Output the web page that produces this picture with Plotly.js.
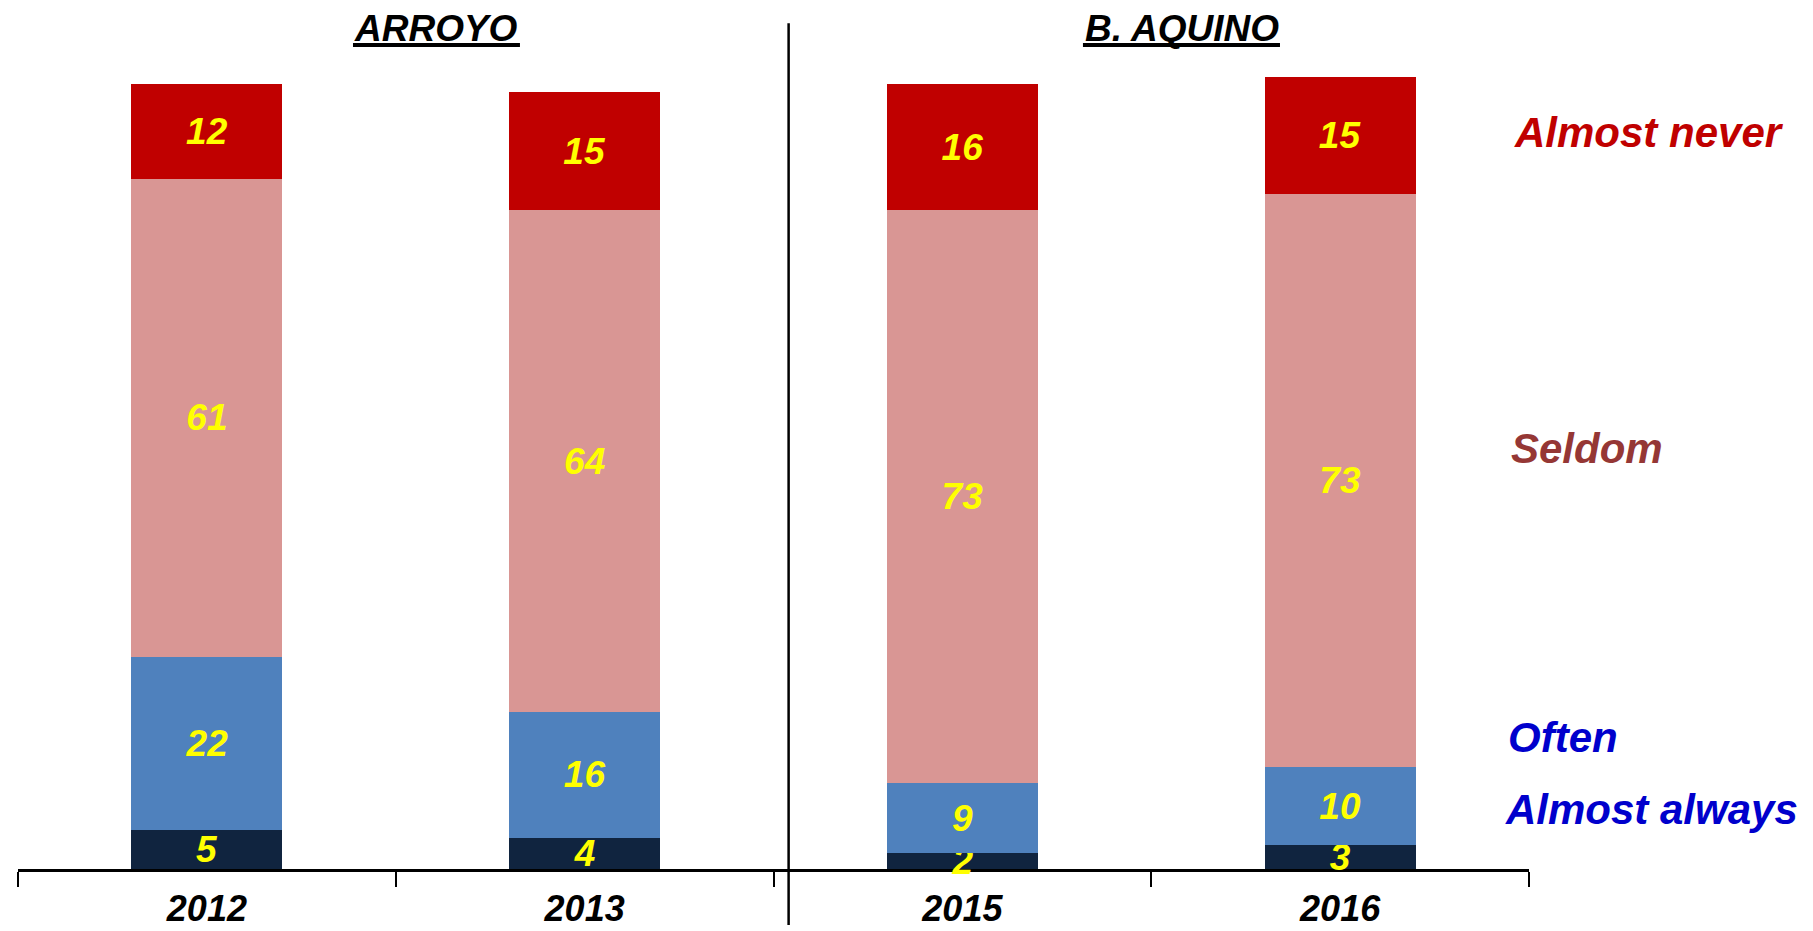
<!DOCTYPE html>
<html>
<head>
<meta charset="utf-8">
<script src="https://cdn.plot.ly/plotly-3.0.1.min.js"></script>
<style>html,body{margin:0;padding:0;background:#fff;}#chart{width:1813px;height:931px;}</style>
</head>
<body>
<div id="chart"></div>
<script>
var years = ['2012', '2013', '2015', '2016'];
var almostAlways = [5, 4, 2, 3];
var often = [22, 16, 9, 10];
var seldom = [61, 64, 73, 73];
var almostNever = [12, 15, 16, 15];
var seriesNames = ['Almost always', 'Often', 'Seldom', 'Almost never'];
var groupTitles = ['ARROYO', 'B. AQUINO'];

var FONT = 'Liberation Sans, Arial, sans-serif';
var barColors = ['#10243F', '#4F81BD', '#D99694', '#C00000'];
var labelColors = ['#0000CC', '#0000CC', '#953735', '#C00000'];
var seriesData = [almostAlways, often, seldom, almostNever];

var traces = seriesData.map(function (vals, i) {
  return {
    type: 'bar',
    name: seriesNames[i],
    x: years,
    y: vals,
    width: 0.4,
    marker: { color: barColors[i], line: { width: 0 } },
    text: vals.map(String),
    textposition: 'inside',
    insidetextanchor: 'middle',
    textangle: 0,
    constraintext: 'none',
    textfont: { family: FONT, size: 37, color: '#FFFF00', weight: 'bold', style: 'italic' },
    hoverinfo: 'x+y+name',
    cliponaxis: false
  };
});

var legendY = [0.0695, 0.1518, 0.4867, 0.8529];
var legendX = [0.9825, 0.9845, 0.9865, 0.9885];
var annotations = seriesNames.map(function (n, i) {
  return {
    text: n, xref: 'paper', yref: 'paper', x: legendX[i], y: legendY[i],
    xanchor: 'left', yanchor: 'middle', showarrow: false,
    font: { family: FONT, size: 42, color: labelColors[i], weight: 'bold', style: 'italic' }
  };
});
var titleX = [0.2766, 0.7703];
groupTitles.forEach(function (t, i) {
  annotations.push({
    text: t, xref: 'paper', yref: 'paper', x: titleX[i], y: 0.9745,
    xanchor: 'center', yanchor: 'middle', showarrow: false,
    font: { family: FONT, size: 37, color: '#000', weight: 'bold', style: 'italic' }
  });
});

var shapes = [
  { type: 'line', xref: 'paper', yref: 'paper', x0: 0.510, x1: 0.510, y0: 0.980, y1: -0.065,
    line: { color: '#000', width: 2.5 } },
  { type: 'line', xref: 'paper', yref: 'paper', x0: 0.2217, x1: 0.3322, y0: 0.9548, y1: 0.9548,
    line: { color: '#000', width: 4 } },
  { type: 'line', xref: 'paper', yref: 'paper', x0: 0.7048, x1: 0.8352, y0: 0.9548, y1: 0.9548,
    line: { color: '#000', width: 4 } }
];

var layout = {
  width: 1813, height: 931,
  margin: { l: 18, r: 284, t: 6, b: 62 },
  paper_bgcolor: '#fff', plot_bgcolor: '#fff',
  barmode: 'stack',
  showlegend: false,
  xaxis: {
    type: 'category', range: [-0.5, 3.5],
    showline: true, linecolor: '#000', linewidth: 3,
    ticks: 'outside', ticklen: 15, tickwidth: 2, tickcolor: '#000',
    tickson: 'boundaries', showgrid: false, zeroline: false,
    layer: 'below traces',
    tickfont: { family: FONT, size: 36, color: '#000', weight: 'bold', style: 'italic' },
    ticklabelstandoff: 6
  },
  yaxis: { range: [0, 110], visible: false, showgrid: false, zeroline: false },
  annotations: annotations,
  shapes: shapes
};

Plotly.newPlot('chart', traces, layout, { displayModeBar: false, staticPlot: true });
</script>
</body>
</html>
